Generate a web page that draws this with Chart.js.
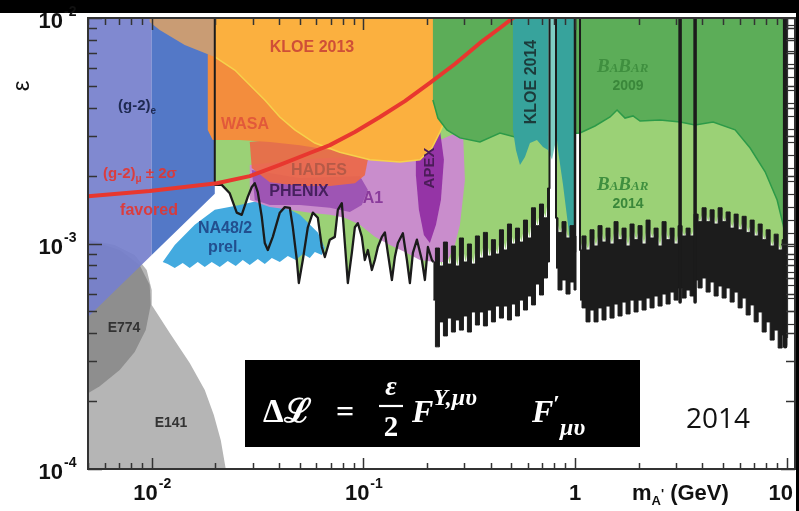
<!DOCTYPE html>
<html>
<head>
<meta charset="utf-8">
<title>Dark photon limits</title>
<script src="https://cdn.jsdelivr.net/npm/chart.js@4.4.1/dist/chart.umd.min.js"></script>
<style>
  html, body { margin: 0; padding: 0; background: #fff; overflow: hidden; }
  canvas { display: block; }
</style>
</head>
<body>
<canvas id="chart" width="799" height="511"></canvas>
<script>
// ---- axis ranges ---------------------------------------------------------
const massRange = [0.005, 10.95];   // m_A' in GeV
const epsRange  = [1e-4, 1e-2];     // kinetic mixing epsilon

// ---- tick labels ---------------------------------------------------------
const xTickValues = [0.01, 0.1, 1, 10];
const xTickBase   = ['10', '10', '1', '10'];
const xTickExp    = ['-2', '-1', '', ''];
const yTickValues = [1e-2, 1e-3, 1e-4];
const yTickExp    = ['-2', '-3', '-4'];

// ---- exclusion regions, outlines of [mass (GeV), epsilon] ---------------
const g2eLow  = [[0.005,1e-2],[0.01,1e-2],[0.01,8.89e-4],[0.005,4.72e-4]];
const g2eHigh = [[0.01,1e-2],[0.01986,1e-2],[0.01986,1.66e-3],[0.01,8.89e-4]];
const e141 = [[0.005,1.04e-3],[0.00668,9.85e-4],[0.00831,8.89e-4],[0.00947,7.63e-4],[0.01,6.22e-4],
  [0.01,5.34e-4],[0.01217,4.01e-4],[0.01512,2.95e-4],[0.01781,2.24e-4],[0.01964,1.74e-4],
  [0.0212,1.34e-4],[0.02238,1e-4],[0.005,1e-4]];
const e774 = [[0.005,1.04e-3],[0.00706,9.36e-4],[0.00877,8.03e-4],[0.00978,6.55e-4],[0.00989,5.34e-4],
  [0.00937,4.13e-4],[0.00831,3.30e-4],[0.00706,2.75e-4],[0.00568,2.33e-4],[0.005,2.17e-4]];
const na48 = [[0.01127,8.28e-4],[0.01285,9.85e-4],[0.01597,1.21e-3],[0.01986,1.41e-3],[0.02607,1.48e-3],
  [0.03312,1.56e-3],[0.04254,1.45e-3],[0.05009,1.34e-3],[0.06094,1.12e-3],[0.06577,9.55e-4],
  [0.06364,8.89e-4],[0.05899,9.17e-4],[0.05585,8.62e-4],[0.05175,8.98e-4],[0.04797,8.45e-4],
  [0.04396,8.80e-4],[0.04029,8.28e-4],[0.03693,8.62e-4],[0.03422,8.11e-4],[0.03171,8.53e-4],
  [0.02906,8.03e-4],[0.02693,8.45e-4],[0.02495,7.95e-4],[0.02287,8.36e-4],[0.02097,7.87e-4],
  [0.01921,8.28e-4],[0.01781,7.87e-4],[0.0165,8.28e-4],[0.01512,7.78e-4],[0.01401,8.19e-4],
  [0.01285,7.78e-4],[0.0119,8.11e-4]];
const a1 = [[0.02906,2.23e-3],[0.05009,2.35e-3],[0.1197,2.47e-3],[0.1849,2.60e-3],[0.23,2.88e-3],
  [0.2954,3.19e-3],[0.3019,1.91e-3],[0.286,1.21e-3],[0.2708,9.85e-4],[0.2481,8.28e-4],[0.2179,8.28e-4],
  [0.1849,8.45e-4],[0.1571,9.17e-4],[0.1334,9.85e-4],[0.1133,1.07e-3],[0.09627,1.21e-3],
  [0.08175,1.30e-3],[0.06943,1.34e-3],[0.05585,1.37e-3],[0.04493,1.41e-3],[0.03613,1.45e-3],
  [0.02906,1.56e-3]];
const apex = [[0.1771,3.03e-3],[0.23,3.19e-3],[0.2402,2.35e-3],[0.2325,1.56e-3],[0.2203,1.21e-3],
  [0.2062,1.005e-3],[0.1932,1.09e-3],[0.183,1.41e-3],[0.1771,2.01e-3]];
const phenix = [[0.0297,2.12e-3],[0.05009,1.95e-3],[0.09627,1.99e-3],[0.105,1.73e-3],[0.09837,1.48e-3],
  [0.08633,1.38e-3],[0.06943,1.44e-3],[0.05009,1.48e-3],[0.03613,1.48e-3],[0.03069,1.56e-3]];
const hades = [[0.02906,2.82e-3],[0.04493,2.94e-3],[0.07332,2.79e-3],[0.09837,2.60e-3],[0.105,2.35e-3],
  [0.1016,2.01e-3],[0.09116,1.85e-3],[0.06943,1.80e-3],[0.05009,1.80e-3],[0.03613,1.87e-3],[0.0297,2.16e-3]];
const wasa = [[0.0184,7.59e-3],[0.06943,7.59e-3],[0.06943,2.60e-3],[0.05009,2.73e-3],[0.03613,2.82e-3],
  [0.02607,2.88e-3],[0.01942,2.88e-3],[0.0184,3.19e-3]];
const kloe13 = [[0.01986,1e-2],[0.2428,1e-2],[0.2428,3.53e-3],[0.23,3.12e-3],[0.2108,2.65e-3],
  [0.1849,2.35e-3],[0.1488,2.30e-3],[0.1073,2.35e-3],[0.07743,2.54e-3],[0.05899,2.79e-3],
  [0.04745,3.19e-3],[0.04029,3.64e-3],[0.03422,4.33e-3],[0.02906,5.05e-3],[0.02469,5.88e-3],
  [0.01986,6.72e-3]];
const kloe13Low = [[0.00978,1e-2],[0.01986,1e-2],[0.01986,6.72e-3],[0.01432,7.59e-3],[0.01091,8.85e-3],
  [0.00978,9.60e-3]];
const babar09 = [[0.2131,1e-2],[10,1e-2],[10,1.0e-3],[9.627,1.21e-3],[9.016,1.56e-3],[7.913,2.08e-3],
  [6.721,2.65e-3],[5.707,3.19e-3],[4.493,3.46e-3],[3.693,3.35e-3],[3.137,3.46e-3],[2.523,3.53e-3],
  [2.029,3.49e-3],[1.88,3.68e-3],[1.723,3.60e-3],[1.58,3.91e-3],[1.464,3.64e-3],[1.243,3.32e-3],
  [1.056,3.09e-3],[0.7451,3.03e-3],[0.5202,2.97e-3],[0.4419,3.09e-3],[0.3556,2.82e-3],
  [0.286,2.94e-3],[0.2481,3.19e-3],[0.225,3.60e-3],[0.2131,4.33e-3]];
const kloe14 = [[0.509,1e-2],[0.7451,1e-2],[0.7451,2.60e-3],[0.7058,2.68e-3],[0.6611,2.88e-3],
  [0.6126,2.79e-3],[0.5801,2.42e-3],[0.5495,2.23e-3],[0.526,2.60e-3],[0.509,3.19e-3]];
const kloe14Omega = [[0.7451,1e-2],[0.8132,1e-2],[0.8132,2.88e-3],[0.7786,2.35e-3],[0.7451,2.60e-3]];
const kloe14Phi = [[0.8132,1e-2],[1.0,1e-2],[1.0,9.17e-4],[0.9574,9.36e-4],[0.9267,1.21e-3],
  [0.8776,1.82e-3],[0.831,2.60e-3],[0.8132,3.19e-3]];

// ---- BaBar 2014 limit: oscillating low-mass part ----------------------------
const lowMassM = [0.01986,0.02143,0.02337,0.02522,0.02663,0.02843,0.0297,0.03069,0.03171,0.03312,
  0.03422,0.03536,0.03733,0.04029,0.04254,0.04493,0.04643,0.04848,0.04955,0.05175,0.05465,0.05771,
  0.06094,0.06364,0.06577,0.06943,0.07332,0.07575,0.07912,0.08175,0.08446,0.08822,0.09116,0.09419,
  0.09837,0.1016,0.105,0.1097,0.1133,0.1171,0.1223,0.1264,0.1305,0.1364,0.1409,0.1456,0.1537,
  0.1606,0.1659,0.1714,0.1791,0.189,0.1953,0.2018,0.2108];
const lowMassEps = [1.82e-3,1.82e-3,1.67e-3,1.37e-3,1.34e-3,1.61e-3,1.78e-3,1.85e-3,1.69e-3,1.31e-3,
  1.005e-3,9.36e-4,1.07e-3,1.37e-3,1.45e-3,1.44e-3,1.18e-3,8.45e-4,6.68e-4,8.45e-4,1.18e-3,1.37e-3,
  1.30e-3,9.65e-4,8.71e-4,1.04e-3,1.07e-3,1.41e-3,1.51e-3,1.005e-3,6.68e-4,9.08e-4,1.18e-3,1.23e-3,
  1.07e-3,8.45e-4,9.36e-4,7.63e-4,8.45e-4,9.65e-4,1.07e-3,1.12e-3,9.08e-4,6.89e-4,8.71e-4,1.005e-3,
  1.11e-3,8.45e-4,6.68e-4,9.08e-4,1.04e-3,8.45e-4,6.89e-4,9.65e-4,8.45e-4];

// ---- BaBar 2014 limit: dense high-mass scan, upper and lower envelopes ------
const band1M  = [0.2143,0.2239,0.2338,0.2442,0.255,0.2663,0.2782,0.2906,0.3035,0.317,0.3311,0.3459,
  0.3612,0.3773,0.3941,0.4117,0.43,0.4492,0.4692,0.4901,0.5119,0.5347,0.5585,0.5834,0.6093,0.6365,
  0.6648,0.6944,0.7254,0.7577];
const band1Hi = [8.28e-4,9.55e-4,7.95e-4,1.015e-3,8.11e-4,9.75e-4,7.95e-4,1.058e-3,8.28e-4,9.95e-4,
  8.11e-4,1.08e-3,8.62e-4,1.12e-3,8.80e-4,1.04e-3,8.98e-4,1.15e-3,9.36e-4,1.22e-3,9.95e-4,1.17e-3,
  1.015e-3,1.27e-3,1.058e-3,1.44e-3,1.20e-3,1.496e-3,1.30e-3,1.762e-3];
const band1Lo = [5.61e-4,3.48e-4,4.49e-4,3.89e-4,4.67e-4,4.05e-4,4.58e-4,4.13e-4,4.77e-4,4.05e-4,
  4.97e-4,4.35e-4,4.97e-4,4.31e-4,5.07e-4,4.49e-4,5.28e-4,4.67e-4,5.28e-4,4.58e-4,5.39e-4,4.77e-4,
  5.61e-4,5.07e-4,5.85e-4,5.34e-4,6.61e-4,5.91e-4,7.03e-4,8.28e-4];
const band2M  = [0.8132,0.8494,0.8871,0.9267,0.9679,1.011];
const band2Hi = [1.30e-3,1.12e-3,1.25e-3,1.058e-3,1.20e-3,1.08e-3];
const band2Lo = [7.78e-4,6.22e-4,6.89e-4,5.97e-4,6.75e-4,6.22e-4];
const band3M  = [1.056,1.103,1.152,1.203,1.257,1.313,1.371,1.432,1.496,1.563,1.632,1.705,1.781,1.86,
  1.943,2.029,2.12,2.214,2.312,2.415,2.523,2.635,2.753,2.875,3.003,3.137,3.277,3.422,3.575,3.734,
  3.899,4.073,4.255,4.444,4.642,4.849,5.064,5.29,5.525,5.771,6.028,6.297,6.577,6.87,7.176,7.495,
  7.829,8.178,8.541,8.921,9.318,9.732,10];
const band3Hi = [9.36e-4,1.08e-3,9.36e-4,1.15e-3,9.75e-4,1.20e-3,1.015e-3,1.17e-3,9.95e-4,1.25e-3,
  1.04e-3,1.17e-3,9.75e-4,1.22e-3,1.04e-3,1.20e-3,9.95e-4,1.27e-3,1.058e-3,1.17e-3,9.75e-4,1.25e-3,
  1.04e-3,1.17e-3,9.95e-4,1.20e-3,1.08e-3,1.17e-3,1.08e-3,1.35e-3,1.25e-3,1.44e-3,1.25e-3,1.41e-3,
  1.22e-3,1.44e-3,1.25e-3,1.38e-3,1.17e-3,1.35e-3,1.15e-3,1.32e-3,1.12e-3,1.27e-3,1.08e-3,1.22e-3,
  1.04e-3,1.15e-3,9.75e-4,1.10e-3,9.36e-4,1.04e-3,9.36e-4];
const band3Lo = [5.61e-4,5.18e-4,4.49e-4,5.07e-4,4.49e-4,5.18e-4,4.58e-4,5.28e-4,4.67e-4,5.39e-4,
  4.77e-4,5.50e-4,4.87e-4,5.61e-4,4.97e-4,5.61e-4,5.07e-4,5.73e-4,5.18e-4,5.85e-4,5.28e-4,5.97e-4,
  5.39e-4,6.09e-4,5.61e-4,6.35e-4,5.73e-4,6.22e-4,5.85e-4,6.89e-4,6.35e-4,7.03e-4,6.09e-4,6.75e-4,
  5.85e-4,6.48e-4,5.73e-4,6.35e-4,5.50e-4,6.09e-4,5.18e-4,5.73e-4,4.82e-4,5.34e-4,4.49e-4,4.97e-4,
  4.05e-4,4.49e-4,3.73e-4,4.13e-4,3.44e-4,3.93e-4,3.55e-4];

// ---- vetoed resonances (omega, phi, J/psi, psi(2S), Upsilon) -----------------
const vetoMass  = [0.7577, 0.8132, 1.0, 1.056, 3.137, 3.693, 9.838];
const vetoFloor = [1.76e-3, 1.30e-3, 9.2e-4, 9.36e-4, 5.5e-4, 5.5e-4, 3.5e-4];
const kloe13Edge = [[0.01986,1e-2],[0.01986,1.82e-3]];

// ---- (g-2)_mu +-2 sigma favoured line -------------------------------------
const g2muM   = [0.005,0.00978,0.0203,0.02906,0.04029,0.05585,0.06943,0.09116,0.1197,0.1571,0.2062,
  0.2708,0.3556,0.4419,0.509,0.6126];
const g2muEps = [1.62e-3,1.71e-3,1.85e-3,1.99e-3,2.23e-3,2.52e-3,2.73e-3,3.12e-3,3.64e-3,4.28e-3,
  5.15e-3,6.25e-3,7.75e-3,9.03e-3,1e-2,1.1e-2];

// ---- helpers --------------------------------------------------------------
const pts = arr => arr.map(([x, y]) => ({ x, y }));
const zip = (m, e) => m.map((v, i) => [v, e[i]]);
const bandOutline = (m, hi, lo) => zip(m, hi).concat(zip(m, lo).reverse());

function region(data, color, extra) {
  return Object.assign({ data: pts(data), fill: 'shape', backgroundColor: color,
    borderColor: color, borderWidth: 0, pointRadius: 0 }, extra || {});
}
function stroke(data, color, width) {
  return { data: pts(data), fill: false, borderColor: color, borderWidth: width,
    pointRadius: 0, borderJoinStyle: 'round' };
}

const babar14Edge = zip(lowMassM, lowMassEps)
  .concat(zip(band1M, band1Hi))
  .concat([[band1M[band1M.length - 1], 1e-2], [band2M[0], 1e-2]])
  .concat(zip(band2M, band2Hi))
  .concat([[band2M[band2M.length - 1], 1e-2], [band3M[0], 1e-2]])
  .concat(zip(band3M, band3Hi));

const vetoWidths = [2, 2, 2.5, 2, 3.5, 3.5, 4.5];
const vetoLines = vetoMass.map((m, i) =>
  stroke([[m, 1e-2], [m, vetoFloor[i]]], '#1b1b1b', vetoWidths[i]));

const scan = { borderColor: '#1c1c1c', borderWidth: 1, stepped: 'middle' };

// bottom to top
const layers = [
  { data: pts(babar14Edge), fill: 'end', backgroundColor: '#9bd176', borderWidth: 0, pointRadius: 0 },
  region(e141, '#b5b5b5'),
  region(e774, 'rgba(110,110,110,0.55)'),
  region(g2eLow, 'rgba(118,128,204,0.93)'),
  region(g2eHigh, 'rgba(70,110,195,0.93)'),
  region(na48, '#43aadf'),
  region(a1, '#c98dcc'),
  region(phenix, 'rgba(150,75,175,0.85)'),
  region(apex, '#9534a6'),
  region(hades, 'rgba(236,104,72,0.92)'),
  region(wasa, '#f38d3d'),
  region(kloe13, '#fbb03f', { borderColor: '#f6d24c', borderWidth: 1.5 }),
  region(kloe13Low, '#c99c74'),
  region(babar09, '#5cad58', { borderColor: '#2c9a48', borderWidth: 1.5 }),
  region(kloe14, '#37a39c'),
  region(kloe14Omega, '#7fcdc4'),
  region(kloe14Phi, '#37a39c'),
  region(bandOutline(band1M, band1Hi, band1Lo), '#1c1c1c', scan),
  region(bandOutline(band2M, band2Hi, band2Lo), '#1c1c1c', scan),
  region(bandOutline(band3M, band3Hi, band3Lo), '#1c1c1c', scan),
  stroke(zip(lowMassM, lowMassEps).concat([[band1M[0], band1Hi[0]]]), '#1b1b1b', 2.3),
  stroke(kloe13Edge, '#1b1b1b', 2),
  ...vetoLines,
  stroke(zip(g2muM, g2muEps), '#e8372f', 4)
];
layers.forEach((d, i) => { d.order = layers.length - i; });

// ---- text helpers -------------------------------------------------------------
const SANS = '"Liberation Sans", Arial, Helvetica, sans-serif';
const SERIF = '"Liberation Serif", "DejaVu Serif", "Times New Roman", serif';

function put(ctx, s, x, y, font, color, align, rot) {
  ctx.save();
  ctx.font = font; ctx.fillStyle = color;
  ctx.textAlign = align || 'center'; ctx.textBaseline = 'middle';
  ctx.translate(x, y);
  if (rot) ctx.rotate(rot);
  ctx.fillText(s, 0, 0);
  ctx.restore();
}
function runs(ctx, x, parts) {
  // parts: [text, font, color, baselineY]
  ctx.save();
  ctx.textAlign = 'left'; ctx.textBaseline = 'alphabetic';
  let cx = x;
  for (const [s, font, color, by] of parts) {
    ctx.font = font; ctx.fillStyle = color;
    ctx.fillText(s, cx, by);
    cx += ctx.measureText(s).width;
  }
  ctx.restore();
  return cx;
}

const decor = {
  id: 'decor',
  beforeDraw(chart) {
    const { ctx } = chart;
    ctx.save();
    ctx.fillStyle = '#fff'; ctx.fillRect(0, 0, 799, 511);
    ctx.fillStyle = '#000'; ctx.fillRect(0, 0, 799, 13); ctx.fillRect(796, 0, 3, 511);
    ctx.restore();
  },
  afterDatasetsDraw(chart) {
    const { ctx, chartArea: a } = chart;
    const xs = chart.scales.x, ys = chart.scales.y;
    ctx.save();
    ctx.strokeStyle = '#333'; ctx.lineWidth = 1.5;
    const line = (x1, y1, x2, y2) => { ctx.beginPath(); ctx.moveTo(x1, y1); ctx.lineTo(x2, y2); ctx.stroke(); };
    // ladder strip along the right edge
    ctx.fillStyle = '#fff';
    ctx.fillRect(788, a.top, a.right - 788, 320);
    ctx.lineWidth = 1.2;
    line(787.5, a.top, 787.5, 338);
    for (let y = 25; y <= 336; y += 13) line(787, y + 0.5, a.right, y + 0.5);
    ctx.lineWidth = 1.5;
    // x ticks
    for (let k = -3; k <= 1; k++) for (let j = 1; j <= 9; j++) {
      const v = j * Math.pow(10, k);
      if (v < massRange[0] || v > massRange[1]) continue;
      const px = Math.round(xs.getPixelForValue(v)) + 0.5;
      const major = j === 1;
      line(px, a.bottom, px, a.bottom - (major ? 11 : 6));
      line(px, a.top, px, a.top + (major ? 12 : 7));
    }
    // y ticks
    for (let k = -4; k <= -2; k++) for (let j = 1; j <= 9; j++) {
      const v = j * Math.pow(10, k);
      if (v < epsRange[0] * 0.999 || v > epsRange[1] * 1.001) continue;
      const py = Math.round(ys.getPixelForValue(v)) + 0.5;
      const major = j === 1;
      line(a.left, py, a.left + (major ? 14 : 9), py);
      line(a.right, py, a.right - (major ? 14 : 9), py);
    }
    // frame
    ctx.lineWidth = 2;
    ctx.strokeRect(a.left, a.top, a.right - a.left, a.bottom - a.top);
    ctx.restore();
  },
  afterDraw(chart) {
    const { ctx } = chart;
    const xs = chart.scales.x, ys = chart.scales.y;

    // region labels
    put(ctx, 'KLOE 2013', 312, 48, `bold 16px ${SANS}`, '#cf4f37');
    runs(ctx, 118, [['(g-2)', `bold 15px ${SANS}`, '#1e2a52', 110], ['e', `bold 10px ${SANS}`, '#1e2a52', 114]]);
    put(ctx, 'WASA', 245, 125, `bold 16px ${SANS}`, '#e2593a');
    put(ctx, 'HADES', 319, 171, `bold 16px ${SANS}`, '#b55a47');
    put(ctx, 'PHENIX', 299, 192, `bold 16px ${SANS}`, '#46205e');
    put(ctx, 'A1', 373, 199, `bold 16px ${SANS}`, '#8a3b9c');
    put(ctx, 'APEX', 430, 168, `bold 15px ${SANS}`, '#4b1c58', 'center', -Math.PI / 2);
    put(ctx, 'NA48/2', 225, 229, `bold 16px ${SANS}`, '#224f8f');
    put(ctx, 'prel.', 225, 248, `bold 16px ${SANS}`, '#224f8f');
    put(ctx, 'E774', 124, 328, `bold 14px ${SANS}`, '#333');
    put(ctx, 'E141', 171, 423, `bold 14px ${SANS}`, '#333');
    put(ctx, 'KLOE 2014', 532, 82, `bold 16px ${SANS}`, '#1c3b3b', 'center', -Math.PI / 2);
    const babar = (x, y, year) => {
      const big = `italic bold 19px ${SERIF}`, small = `italic bold 13px ${SERIF}`, c = '#3f8f3f';
      runs(ctx, x, [['B', big, c, y], ['A', small, c, y], ['B', big, c, y], ['AR', small, c, y]]);
      put(ctx, year, x + 31, y + 14, `bold 14px ${SANS}`, '#3a873a');
    };
    babar(597, 72, '2009');
    babar(597, 190, '2014');
    const red = 'rgba(228,52,46,0.9)';
    runs(ctx, 103, [['(g-2)', `bold 15px ${SANS}`, red, 178], ['\u03bc', `bold 10px ${SANS}`, red, 182],
      [' \u00b1 2\u03c3', `bold 15px ${SANS}`, red, 178]]);
    put(ctx, 'favored', 149, 211, `bold 16px ${SANS}`, red);

    // axis tick labels
    ctx.save();
    ctx.fillStyle = '#111';
    ctx.textBaseline = 'alphabetic';
    yTickValues.forEach((v, i) => {
      const py = ys.getPixelForValue(v);
      ctx.font = `bold 22px ${SANS}`; ctx.textAlign = 'right';
      ctx.fillText('10', 63, py + 10);
      ctx.font = `bold 14px ${SANS}`; ctx.textAlign = 'left';
      ctx.fillText(yTickExp[i], 64, py - 2);
    });
    xTickValues.forEach((v, i) => {
      let px = xs.getPixelForValue(v);
      if (i === xTickValues.length - 1) px -= 6;
      ctx.font = `bold 22px ${SANS}`;
      const wb = ctx.measureText(xTickBase[i]).width;
      ctx.font = `bold 14px ${SANS}`;
      const we = xTickExp[i] ? ctx.measureText(xTickExp[i]).width : 0;
      const x0 = px - (wb + we) / 2;
      ctx.textAlign = 'left';
      ctx.font = `bold 22px ${SANS}`; ctx.fillText(xTickBase[i], x0, 500);
      if (we) { ctx.font = `bold 14px ${SANS}`; ctx.fillText(xTickExp[i], x0 + wb + 1, 488); }
    });
    ctx.restore();
    runs(ctx, 632, [['m', `bold 22px ${SANS}`, '#111', 500], ['A', `bold 13px ${SANS}`, '#111', 505],
      ["'", `bold 13px ${SANS}`, '#111', 498], [' (GeV)', `bold 22px ${SANS}`, '#111', 500]]);
    put(ctx, '\u03b5', 22, 86, `24px ${SANS}`, '#111', 'center', -Math.PI / 2);

    // Lagrangian term
    ctx.save();
    ctx.fillStyle = '#000';
    ctx.fillRect(245, 360, 395, 87);
    ctx.restore();
    const W = '#fff';
    runs(ctx, 263, [['\u0394\u2112', `bold 33px ${SERIF}`, W, 422]]);
    runs(ctx, 336, [['=', `bold 32px ${SERIF}`, W, 422]]);
    put(ctx, '\u03b5', 391, 388, `italic bold 28px ${SERIF}`, W);
    ctx.save(); ctx.strokeStyle = W; ctx.lineWidth = 2.2;
    ctx.beginPath(); ctx.moveTo(379, 406); ctx.lineTo(403, 406); ctx.stroke(); ctx.restore();
    put(ctx, '2', 391, 429, `bold 29px ${SERIF}`, W);
    runs(ctx, 412, [['F', `italic bold 32px ${SERIF}`, W, 422], ['Y,\u03bc\u03c5', `italic bold 24px ${SERIF}`, W, 405]]);
    runs(ctx, 532, [['F', `italic bold 32px ${SERIF}`, W, 422], ['\u2032', `bold 24px ${SERIF}`, W, 411],
      ['\u03bc\u03c5', `italic bold 24px ${SERIF}`, W, 435]]);
    put(ctx, '2014', 718, 420, `28px "Open Sans", ${SANS}`, '#111');
  }
};

new Chart(document.getElementById('chart'), {
  type: 'line',
  data: { datasets: layers },
  options: {
    responsive: false,
    animation: false,
    devicePixelRatio: 1,
    layout: { padding: { left: 88, right: 4, top: 18, bottom: 42 } },
    elements: { line: { tension: 0 }, point: { radius: 0 } },
    scales: {
      x: { type: 'logarithmic', min: massRange[0], max: massRange[1], display: false },
      y: { type: 'logarithmic', min: epsRange[0], max: epsRange[1], display: false }
    },
    plugins: { legend: { display: false }, tooltip: { enabled: false } }
  },
  plugins: [decor]
});
</script>
</body>
</html>
